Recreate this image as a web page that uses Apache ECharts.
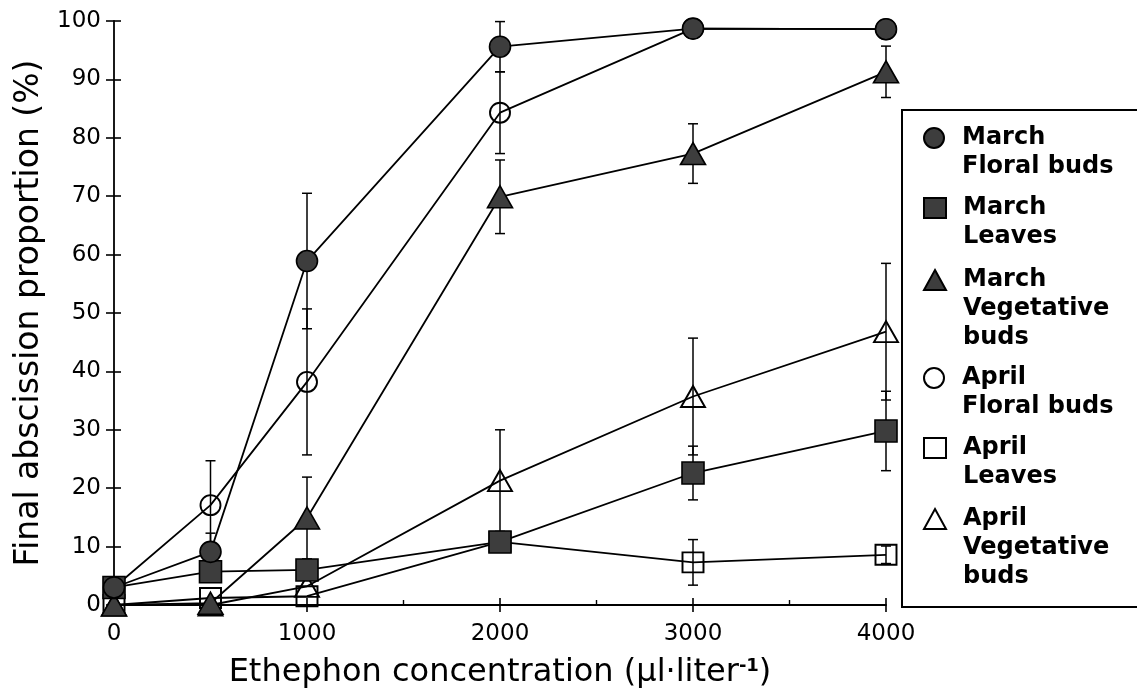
<!DOCTYPE html>
<html>
<head>
<meta charset="utf-8">
<script src="https://cdn.jsdelivr.net/npm/echarts@6/dist/echarts.min.js"></script>
<style>html,body{margin:0;padding:0;background:#fff;}#c{width:1137px;height:690px;}</style>
</head>
<body>
<div id="c"></div>
<script>
const xValues = [0, 500, 1000, 2000, 3000, 4000];
const xTicks = [0, 1000, 2000, 3000, 4000];
const yTicks = [0, 10, 20, 30, 40, 50, 60, 70, 80, 90, 100];

const marchFloral    = [3, 9.1, 58.9, 95.6, 98.7, 98.6];
const marchFloralErr = [0, 3.2, 11.6, 4.3, 0, 0];
const marchLeaves    = [3, 5.7, 6.0, 10.8, 22.6, 29.8];
const marchLeavesErr = [0, 0, 0, 0, 4.6, 6.8];
const marchVeg       = [0, 0.3, 14.9, 69.9, 77.3, 91.3];
const marchVegErr    = [0, 0, 7.0, 6.3, 5.1, 4.4];
const aprilFloral    = [3, 17.1, 38.2, 84.3, 98.7, 98.6];
const aprilFloralErr = [0, 7.6, 12.5, 7.0, 0, 0];
const aprilLeaves    = [0, 1.2, 1.5, 10.8, 7.3, 8.6];
const aprilLeavesErr = [0, 0, 0, 0, 3.9, 1.5];
const aprilVeg       = [0, 0, 3.2, 21.3, 35.7, 46.8];
const aprilVegErr    = [0, 0, 0, 8.7, 10.0, 11.7];

const seriesNames = ['March Floral buds', 'March Leaves', 'March Vegetative buds',
                     'April Floral buds', 'April Leaves', 'April Vegetative buds'];
const legendLines = [['March', 'Floral buds'], ['March', 'Leaves'], ['March', 'Vegetative', 'buds'],
                     ['April', 'Floral buds'], ['April', 'Leaves'], ['April', 'Vegetative', 'buds']];

const FONT = 'DejaVu Sans';
const FILL = '#3d3d3d';

function pts(vals) { return xValues.map((x, i) => [x, vals[i]]); }
function errPts(vals, errs) { return xValues.map((x, i) => [x, vals[i], errs[i]]); }

const defs = [
  {name: seriesNames[5], vals: aprilVeg, errs: aprilVegErr, symbol: 'triangle', size: [24, 21], filled: false, icon: 'triangle'},
  {name: seriesNames[4], vals: aprilLeaves, errs: aprilLeavesErr, symbol: 'rect', size: [21, 20], filled: false, icon: 'rect'},
  {name: seriesNames[3], vals: aprilFloral, errs: aprilFloralErr, symbol: 'circle', size: 20, filled: false, icon: 'circle'},
  {name: seriesNames[2], vals: marchVeg, errs: marchVegErr, symbol: 'triangle', size: [25, 22], filled: true, icon: 'triangle'},
  {name: seriesNames[1], vals: marchLeaves, errs: marchLeavesErr, symbol: 'rect', size: [22, 22], filled: true, icon: 'rect'},
  {name: seriesNames[0], vals: marchFloral, errs: marchFloralErr, symbol: 'circle', size: 21, filled: true, icon: 'circle'}
];

function errRender(params, api) {
  const x = api.value(0), y = api.value(1), e = api.value(2);
  if (!e) return null;
  const t = api.coord([x, y + e]);
  const b = api.coord([x, y - e]);
  const w = 5;
  const st = {stroke: '#000', lineWidth: 1.5};
  return {
    type: 'group',
    children: [
      {type: 'line', shape: {x1: t[0], y1: t[1], x2: b[0], y2: b[1]}, style: st},
      {type: 'line', shape: {x1: t[0] - w, y1: t[1], x2: t[0] + w, y2: t[1]}, style: st},
      {type: 'line', shape: {x1: b[0] - w, y1: b[1], x2: b[0] + w, y2: b[1]}, style: st}
    ]
  };
}

const series = [];
defs.forEach(d => {
  series.push({
    name: d.name + ' err', type: 'custom', coordinateSystem: 'cartesian2d',
    xAxisIndex: 0, yAxisIndex: 0, z: 1, silent: true,
    encode: {x: 0, y: 1},
    renderItem: errRender,
    data: errPts(d.vals, d.errs)
  });
});
defs.forEach(d => {
  series.push({
    name: d.name, type: 'line', xAxisIndex: 0, yAxisIndex: 0, z: 2,
    data: pts(d.vals),
    symbol: d.symbol, symbolSize: d.size, showAllSymbol: true,
    lineStyle: {color: '#000', width: 1.8},
    itemStyle: d.filled
      ? {color: FILL, borderColor: '#000', borderWidth: 1.6}
      : {color: 'rgba(255,255,255,0)', borderColor: '#000', borderWidth: 1.9},
    emphasis: {disabled: true},
    animation: false
  });
});

const L = 29;
const iconCenters = [138, 208, 280, 378, 448, 519];

const legends = seriesNames.map((nm, i) => {
  const d = defs.find(q => q.name === nm);
  const lines = legendLines[i];
  const n = lines.length;
  const half = L * (2 * n - 1) / 2;
  const label = Array(n - 1).fill(' ').concat(lines).join('\n');
  return {
    orient: 'vertical', left: 923, top: iconCenters[i] - half, padding: 0,
    itemWidth: 22, itemHeight: 20, selectedMode: false,
    data: [{name: nm, icon: d.icon}],
    formatter: () => label,
    textStyle: {fontFamily: FONT, fontSize: 24, fontWeight: 'bold', color: '#000',
                lineHeight: L, padding: [0, 0, 0, 12]}
  };
});

const option = {
  animation: false,
  backgroundColor: '#fff',
  grid: {left: 114, right: 251, top: 21, bottom: 85, containLabel: false, outerBoundsMode: 'none'},
  legend: legends,
  graphic: [{
    type: 'rect', silent: true, z: 0,
    shape: {x: 902, y: 110, width: 300, height: 497},
    style: {fill: 'none', stroke: '#000', lineWidth: 2}
  }],
  xAxis: [{
    type: 'value', min: 0, max: 4000, interval: 1000,
    axisLine: {show: true, lineStyle: {color: '#000', width: 1.8}},
    axisTick: {show: true, length: 7, lineStyle: {color: '#000', width: 1.6}},
    axisLabel: {show: true, margin: 18, fontFamily: FONT, fontSize: 23, color: '#000',
                formatter: v => xTicks.indexOf(v) >= 0 ? String(v) : ''},
    splitLine: {show: false},
    name: 'Ethephon concentration (µl·liter{sup|-1})',
    nameLocation: 'middle', nameGap: 52,
    nameTextStyle: {fontFamily: FONT, fontSize: 32, color: '#000',
                    rich: {sup: {fontFamily: FONT, fontSize: 18, fontWeight: 'bold', color: '#000', verticalAlign: 'top', padding: [0, 0, 12, 0]}}}
  }, {
    type: 'value', min: 0, max: 4000, interval: 1000, position: 'bottom',
    axisLine: {show: false},
    axisTick: {show: true, inside: true, length: 7, lineStyle: {color: '#000', width: 1.6}},
    minorTick: {show: true, splitNumber: 2, length: 5, lineStyle: {color: '#000', width: 1.4}},
    axisLabel: {show: false}, splitLine: {show: false}
  }],
  yAxis: [{
    type: 'value', min: 0, max: 100, interval: 10,
    axisLine: {show: true, lineStyle: {color: '#000', width: 1.8}},
    axisTick: {show: true, length: 8, lineStyle: {color: '#000', width: 1.6}},
    axisLabel: {show: true, margin: 13, fontFamily: FONT, fontSize: 23, color: '#000',
                formatter: v => yTicks.indexOf(v) >= 0 ? String(v) : ''},
    splitLine: {show: false},
    name: 'Final abscission proportion (%)',
    nameLocation: 'middle', nameGap: 64,
    nameTextStyle: {fontFamily: FONT, fontSize: 33, color: '#000'}
  }, {
    type: 'value', min: 0, max: 100, interval: 10, position: 'left',
    axisLine: {show: false},
    axisTick: {show: true, inside: true, length: 7, lineStyle: {color: '#000', width: 1.6}},
    axisLabel: {show: false}, splitLine: {show: false}
  }],
  series: series
};

const chart = echarts.init(document.getElementById('c'), null, {renderer: 'canvas'});
chart.setOption(option);
</script>
</body>
</html>
